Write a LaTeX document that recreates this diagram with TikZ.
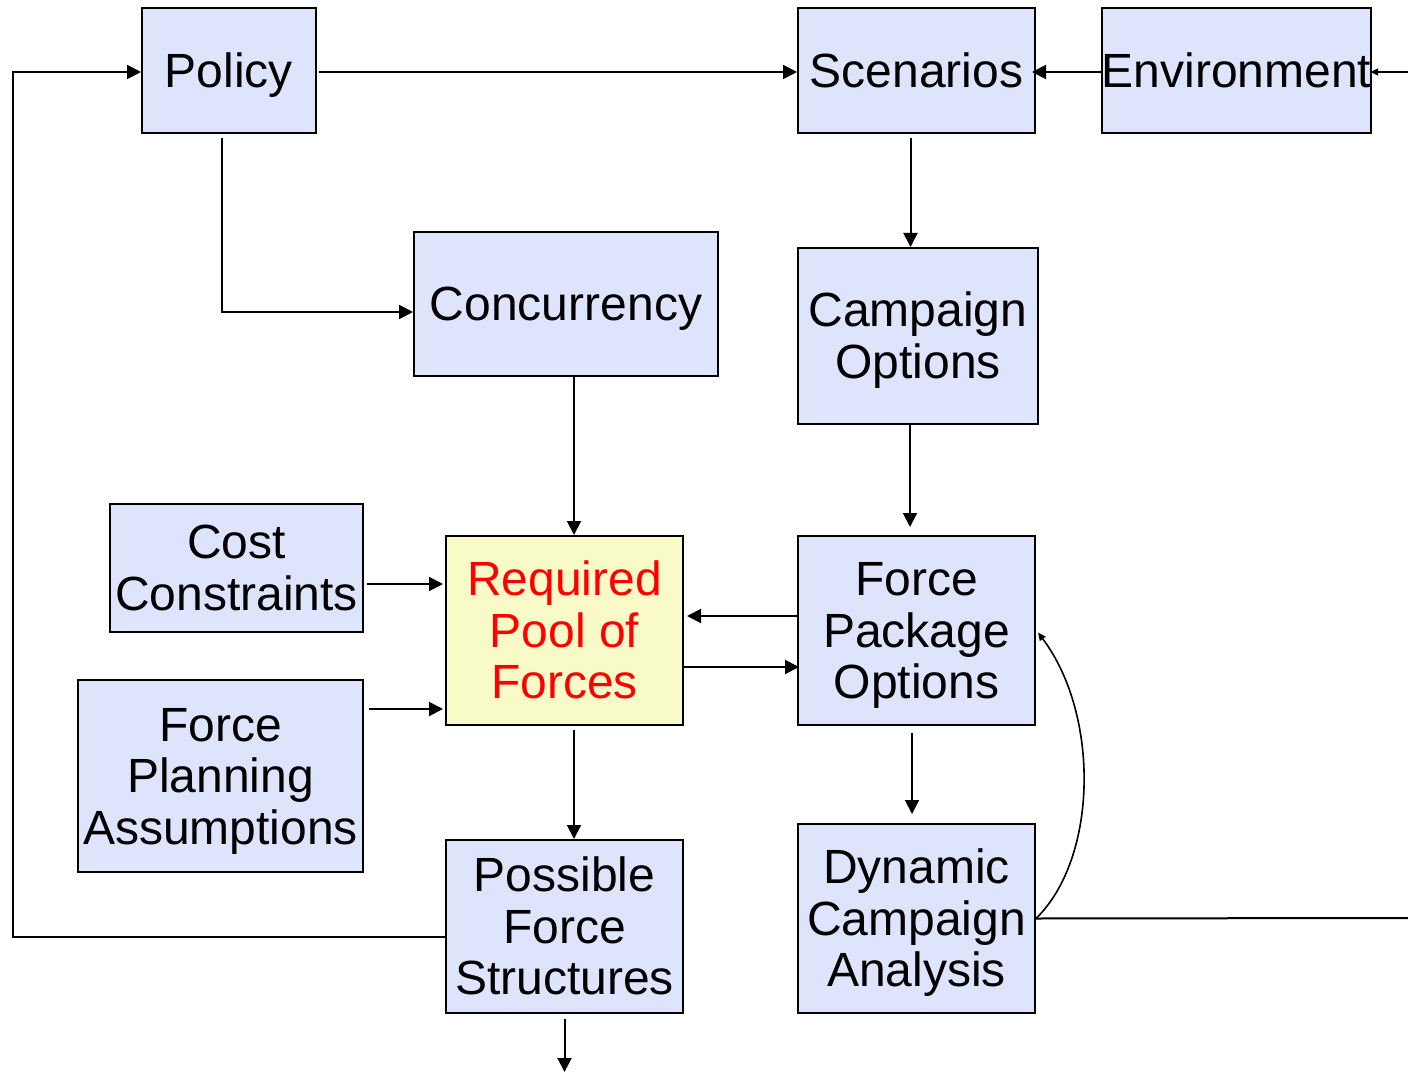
\documentclass[tikz,border=0pt]{standalone}
\usepackage{fontspec}
\setmainfont{Liberation Sans}
\usetikzlibrary{arrows.meta,positioning}

\definecolor{boxblue}{RGB}{221,228,252}
\definecolor{boxyellow}{RGB}{248,251,200}
\newcommand\ls{\leavevmode\vrule height 21.7pt depth 5.1pt width 0pt\relax}
\newcommand\boxfont{\fontsize{24}{25.75}\selectfont\lineskiplimit=-20pt\relax}

\begin{document}
\begin{tikzpicture}[x=0.5pt,y=-0.5pt,>={Triangle[length=7pt,width=7pt]},
    line width=1pt,
    blk/.style={draw,fill=boxblue,inner sep=0pt,align=center,font=\boxfont},
    small/.style={-{Triangle[length=4pt,width=3.5pt]}}]
    \useasboundingbox (0,0) rectangle (1408,1075);

    \node[blk,minimum width=87pt,minimum height=62.5pt]    (policy) at (229,70.5)   {\ls Policy};
    \node[blk,minimum width=118.5pt,minimum height=62.5pt] (scen)   at (916.5,70.5) {\ls Scenarios};
    \node[blk,minimum width=134.5pt,minimum height=62.5pt] (env)    at (1236.5,70.5) {\ls Environment};
    \node[blk,minimum width=152pt,minimum height=72pt]     (conc)   at (566,304)    {\ls Concurrency};
    \node[blk,minimum width=120pt,minimum height=88pt]     (camp)   at (918,336)    {\ls Campaign\\Options\ls};
    \node[blk,minimum width=126.5pt,minimum height=64pt]   (cost)   at (236.5,568)  {\ls Cost\\Constraints\ls};
    \node[blk,fill=boxyellow,text=red,minimum width=118.5pt,minimum height=94.5pt]
                                                           (req)    at (564.5,630.5) {\ls Required\\Pool of\\Forces\ls};
    \node[blk,minimum width=118.5pt,minimum height=94.5pt] (fpo)    at (916.5,630.5) {\ls Force\\Package\\Options\ls};
    \node[blk,minimum width=142.5pt,minimum height=96pt]   (fpa)    at (220.5,776)  {\ls Force\\Planning\\Assumptions\ls};
    \node[blk,minimum width=118.5pt,minimum height=86.5pt] (pfs)    at (564.5,926.5) {\ls Possible\\Force\\Structures\ls};
    \node[blk,minimum width=118.5pt,minimum height=94.5pt] (dca)    at (916.5,918.5) {\ls Dynamic\\Campaign\\Analysis\ls};

    \coordinate (rin)  at (1408,72);
    \coordinate (rout) at (1408,918);
    \coordinate (lft)  at (13,500);
    \coordinate (down) at (567,1072);

    % top row
    \draw[->] ([xshift=1pt,yshift=-0.75pt]policy.east) -- ([yshift=-0.75pt]scen.west);
    \draw[->] ([yshift=-0.75pt]env.west) -- ([xshift=-2pt,yshift=-0.75pt]scen.east);
    \draw[small] (rin) -- ([xshift=-1pt]rin -| env.east);

    % feedback loop on the left
    \draw[->] ([yshift=-5pt]pfs.west) -| (lft) |- ([yshift=-0.75pt]policy.west);

    \draw[->] ([xshift=-3.5pt,yshift=-2pt]policy.south) |- ([yshift=-4pt]conc.west);
    \draw[->] ([xshift=-3pt,yshift=-2pt]scen.south) -- ([xshift=-3pt]scen.south |- camp.north);
    \draw[->] ([xshift=-4pt]camp.south) -- ([xshift=-4pt,yshift=4pt]camp.south |- fpo.north);
    \draw[->] ([xshift=4pt]conc.south) -- ([xshift=4pt]conc.south |- req.north);

    % inputs to the pool
    \draw[->] ([xshift=1.5pt,yshift=-8pt]cost.east) -- ([xshift=-1pt,yshift=-8pt]cost.east -| req.west);
    \draw[->] ([xshift=2.5pt,yshift=33.5pt]fpa.east) -- ([xshift=-1pt,yshift=33.5pt]fpa.east -| req.west);
    \draw[->] ([yshift=7.25pt]fpo.west) -- ([xshift=1.5pt,yshift=7.25pt]fpo.west -| req.east);
    \draw[->] ([yshift=-18.25pt]req.east) -- ([xshift=1pt,yshift=-18.25pt]req.east -| fpo.west);

    \draw[->] ([xshift=4.75pt,yshift=-2pt]req.south) -- ([xshift=4.75pt]req.south |- pfs.north);
    \draw[->] ([xshift=-2.25pt,yshift=-3.5pt]fpo.south) -- ([xshift=-2.25pt,yshift=4.5pt]fpo.south |- dca.north);
    \draw[->] ([yshift=-2.5pt]pfs.south) -- (pfs.south |- down);

    % analysis feeds back and out
    \draw (dca.east) -- (rout);
    \draw[small,line width=0.8pt] (dca.east) .. controls (1098,858) and (1100,715) .. ([xshift=1pt,yshift=-1pt]fpo.east);
\end{tikzpicture}
\end{document}
